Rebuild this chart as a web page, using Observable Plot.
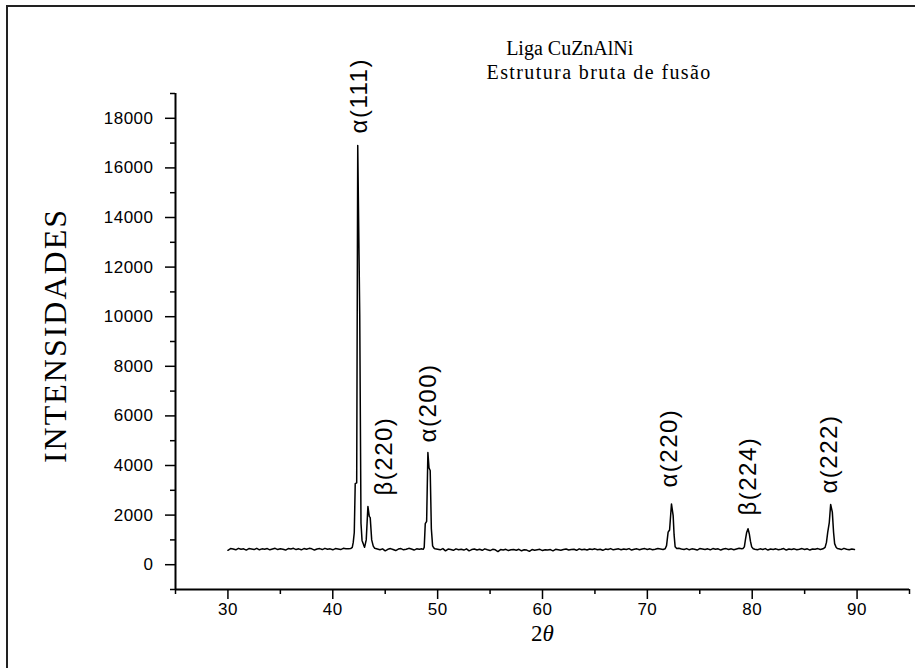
<!DOCTYPE html>
<html>
<head>
<meta charset="utf-8">
<script src="https://cdn.jsdelivr.net/npm/d3@7"></script>
<script src="https://cdn.jsdelivr.net/npm/@observablehq/plot@0.6"></script>
<style>
  body { margin: 0; background: white; }
  #wrap { position: relative; width: 915px; height: 668px; overflow: hidden; background: white; }
  #wrap svg { position: absolute; left: 0; top: 0; }
  #border { position: absolute; left: 6px; top: 5px; width: 1000px; height: 1000px;
            border-left: 2px solid #222; border-top: 2px solid #222; pointer-events: none; }
</style>
</head>
<body>
<div id="wrap"><div id="border"></div></div>
<script>
// ---- Data ----
const scanStep = 0.25;

// baseline segments (start angle, counts at each step)
const seg1Start = 30.00;
const seg1 = [580,650,630,600,660,620,640,590,650,630,
              610,660,600,640,620,650,600,630,660,610,
              640,620,590,650,630,660,610,640,600,650,
              620,660,640,590,630,650,610,660,620,640,
              600,650,630,610,660,640];
const seg2Start = 44.00;
const seg2 = [660,630,600,640,560,620,650,610,570,630,650,600,620,660,630,590,640,620];
const seg3Start = 49.75;
const seg3 = [640,620,600,650,560,630,610,580,640,600,
              620,590,640,560,610,630,590,620,580,640,
              600,570,620,600,530,610,590,620,570,600,
              610,580,620,560,600,590,540,610,580,600,
              620,570,600,590,610,560,620,600,580,610,
              630,590,610,620,580,640,600,620,590,630,
              610,640,600,620,580,630,610,650,600,620,
              640,600,630,610,650,590,620,640,600,630,
              650,610,640,600,620,650,630,610];
const seg4Start = 73.00;
const seg4 = [660,630,610,650,600,640,620,590,650,630,610,640,600,650,620,640,590,630,650,610,640,600,630,660];
const seg5Start = 80.25;
const seg5 = [620,600,640,610,650,590,630,610,640,600,620,650,590,630,610,640,600,620,650,610,640,590,630,620,650,610,640];
const seg6Start = 88.25;
const seg6 = [640,610,660,620,600,630,610];

// peak regions (2θ, counts)
const p111x = [41.50,41.70,41.86,41.95,42.05,42.14,42.28,42.38,42.57,42.69,42.79,42.94,43.03,43.19,43.35,43.48,43.57,43.71,43.86];
const p111y = [640,650,700,900,1300,3270,3300,16900,10100,1670,980,800,700,1000,2350,1950,1900,1000,750];
const p200x = [48.50,48.62,48.72,48.82,48.95,49.07,49.18,49.29,49.40,49.52,49.63];
const p200y = [640,620,700,1660,1750,4520,3900,3800,1450,760,680];
const p220x = [71.70,71.83,71.98,72.12,72.30,72.46,72.55,72.65,72.80];
const p220y = [640,770,1310,1400,2450,1980,1200,720,650];
const p224x = [79.00,79.12,79.25,79.35,79.47,79.60,79.72,79.83,79.95,80.10];
const p224y = [640,650,720,1000,1300,1450,1250,950,720,640];
const p222x = [86.95,87.08,87.20,87.35,87.48,87.64,87.76,87.86,88.00,88.12];
const p222y = [700,900,1300,1700,2430,2120,1300,850,700,650];

// peak annotations
const peakNames  = ["α(111)", "β(220)", "α(200)", "α(220)", "β(224)", "α(222)"];
const peakLabelX = [42.52, 44.90, 49.10, 72.14, 79.67, 87.38];
const peakLabelY = [17390, 2790, 4930, 3110, 1980, 2870];

// texts and ticks
const titleLines = ["Liga CuZnAlNi", "Estrutura bruta de fusão"];
const titleX = [62.6, 65.4];
const yLabel = "INTENSIDADES";
const xLabel = "2θ";
const xMajor = [30, 40, 50, 60, 70, 80, 90];
const xMinor = [25, 35, 45, 55, 65, 75, 85, 95];
const yMajor = [0, 2000, 4000, 6000, 8000, 10000, 12000, 14000, 16000, 18000];
const yMinor = [-1000, 1000, 3000, 5000, 7000, 9000, 11000, 13000, 15000, 17000, 19000];

// ---- build table ----
const scan = [];
[[seg1Start, seg1], [seg2Start, seg2], [seg3Start, seg3], [seg4Start, seg4], [seg5Start, seg5], [seg6Start, seg6]]
  .forEach(([s, c]) => c.forEach((v, i) => scan.push({t: +(s + i * scanStep).toFixed(2), c: v})));
[[p111x, p111y], [p200x, p200y], [p220x, p220y], [p224x, p224y], [p222x, p222y]]
  .forEach(([xs, ys]) => xs.forEach((x, i) => scan.push({t: x, c: ys[i]})));
scan.sort((a, b) => a.t - b.t);

const peaks = peakNames.map((n, i) => ({name: n, x: peakLabelX[i], y: peakLabelY[i]}));

const chart = Plot.plot({
  width: 915,
  height: 668,
  marginLeft: 175,
  marginRight: 6,
  marginTop: 93,
  marginBottom: 79,
  style: {background: "transparent", fontFamily: "Liberation Sans", color: "black", overflow: "visible"},
  x: {domain: [25, 95]},
  y: {domain: [-1000, 19000]},
  marks: [
    Plot.axisY({ticks: yMajor, tickSize: 10, tickPadding: 12, tickFormat: d => String(d), label: null,
                fontSize: 17, strokeWidth: 1.5}),
    Plot.axisY({ticks: yMinor, tickSize: 5, tickFormat: () => "", label: null, strokeWidth: 1.5}),
    Plot.axisX({ticks: xMajor, tickSize: 10, tickPadding: 3, tickFormat: d => String(d), label: null,
                fontSize: 17, strokeWidth: 1.5}),
    Plot.axisX({ticks: xMinor, tickSize: 5, tickFormat: () => "", label: null, strokeWidth: 1.5}),
    Plot.ruleX([25], {strokeWidth: 2}),
    Plot.ruleY([-1000], {strokeWidth: 2}),
    Plot.line(scan, {x: "t", y: "c", stroke: "black", strokeWidth: 1.5}),
    Plot.text(peaks, {x: "x", y: "y", text: "name", rotate: -90, textAnchor: "start", lineAnchor: "middle",
                      fontSize: 24, fontFamily: "Liberation Sans"}),
    Plot.text([titleLines[0]], {x: [titleX[0]], frameAnchor: "top", dy: -45, lineAnchor: "middle",
                      textAnchor: "middle", fontSize: 20, fontFamily: "Liberation Serif"}),
    Plot.text([titleLines[1]], {x: [titleX[1]], frameAnchor: "top", dy: -21, lineAnchor: "middle",
                      textAnchor: "middle", fontSize: 20, fontFamily: "Liberation Serif"}),
    Plot.text([yLabel], {frameAnchor: "left", dx: -120, dy: -6, rotate: -90, lineAnchor: "middle",
                      textAnchor: "middle", fontSize: 32, fontFamily: "Liberation Serif"}),
    Plot.text([xLabel], {frameAnchor: "bottom", dy: 44, lineAnchor: "middle", textAnchor: "middle",
                      fontSize: 23, fontFamily: "Liberation Serif"})
  ]
});

const s = d3.select(chart);
const byText = (str) => s.selectAll("text").filter(function () { return this.textContent === str; });
s.selectAll('g[aria-label="y-axis tick label"] text, g[aria-label="x-axis tick label"] text').attr("letter-spacing", "0.5");
peakNames.forEach(n => byText(n).attr("letter-spacing", "1.5"));
byText(titleLines[1]).attr("letter-spacing", "1.4");
byText(yLabel).attr("letter-spacing", "2");
byText(xLabel).each(function () {
  const t = d3.select(this);
  const txt = this.textContent;
  t.text("");
  t.append("tspan").text(txt.slice(0, 1));
  t.append("tspan").attr("font-style", "italic").text(txt.slice(1));
});

const wrap = document.getElementById("wrap");
wrap.insertBefore(chart, wrap.firstChild);
</script>
</body>
</html>
